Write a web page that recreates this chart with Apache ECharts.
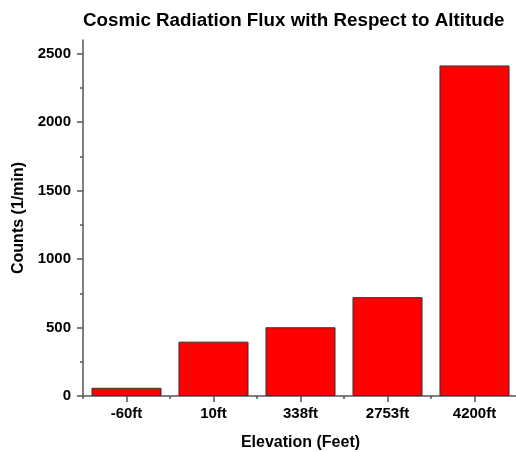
<!DOCTYPE html>
<html>
<head>
<meta charset="utf-8">
<script src="https://cdn.jsdelivr.net/npm/echarts@6/dist/echarts.min.js"></script>
<style>html,body{margin:0;padding:0;background:#fff}#c{width:516px;height:452px}</style>
</head>
<body>
<div id="c"></div>
<script>
const categories = ['-60ft', '10ft', '338ft', '2753ft', '4200ft'];
const counts = [60, 397, 502, 722, 2414];
const yMajorTicks = [0, 500, 1000, 1500, 2000, 2500];
const yMinorTicks = [250, 750, 1250, 1750, 2250];

const FONT = 'Liberation Sans, Arial, sans-serif';
const axisColor = '#555';
const chart = echarts.init(document.getElementById('c'));
chart.setOption({
  animation: false,
  title: {
    text: 'Cosmic Radiation Flux with Respect to Altitude',
    left: 78, top: 6,
    textStyle: { fontFamily: FONT, fontWeight: 'bold', fontSize: 18.8, color: '#000' }
  },
  grid: { left: 83, right: -2, top: 40, bottom: 56, containLabel: false, outerBoundsMode: 'none' },
  xAxis: [{
    type: 'category', data: categories, position: 'bottom',
    name: 'Elevation (Feet)', nameLocation: 'middle', nameGap: 39,
    nameTextStyle: { fontFamily: FONT, fontWeight: 'bold', fontSize: 16, color: '#000' },
    axisLine: { lineStyle: { color: axisColor, width: 1.5 } },
    axisTick: { show: true, alignWithLabel: true, inside: false, length: 6, lineStyle: { color: axisColor, width: 1.5 } },
    axisLabel: { fontFamily: FONT, fontWeight: 'bold', fontSize: 15, color: '#000', margin: 10 },
    splitLine: { show: false }
  }, {
    type: 'category', data: categories, position: 'bottom',
    axisLine: { show: false },
    axisTick: { show: true, alignWithLabel: false, length: 3, lineStyle: { color: axisColor, width: 1.5 } },
    axisLabel: { show: false },
    splitLine: { show: false }
  }],
  yAxis: [{
    type: 'value', min: 0, max: 2600,
    name: 'Counts (1/min)', nameLocation: 'middle', nameGap: 55,
    nameTextStyle: { fontFamily: FONT, fontWeight: 'bold', fontSize: 16, color: '#000' },
    axisLine: { show: true, lineStyle: { color: axisColor, width: 1.5 } },
    axisTick: { show: true, length: 6, customValues: yMajorTicks, lineStyle: { color: axisColor, width: 1.5 } },
    axisLabel: { fontFamily: FONT, fontWeight: 'bold', fontSize: 15, color: '#000', margin: 12, customValues: yMajorTicks, formatter: v => String(v) },
    splitLine: { show: false }
  }, {
    type: 'value', min: 0, max: 2600, position: 'left',
    axisLine: { show: false },
    axisTick: { show: true, length: 3, customValues: yMinorTicks, lineStyle: { color: axisColor, width: 1.5 } },
    axisLabel: { show: false, customValues: yMinorTicks },
    splitLine: { show: false }
  }],
  series: [{
    type: 'bar', data: counts, xAxisIndex: 0, yAxisIndex: 0,
    barWidth: '80.5%',
    itemStyle: { color: '#ff0000', borderColor: '#333', borderWidth: 1 }
  }]
});
</script>
</body>
</html>
